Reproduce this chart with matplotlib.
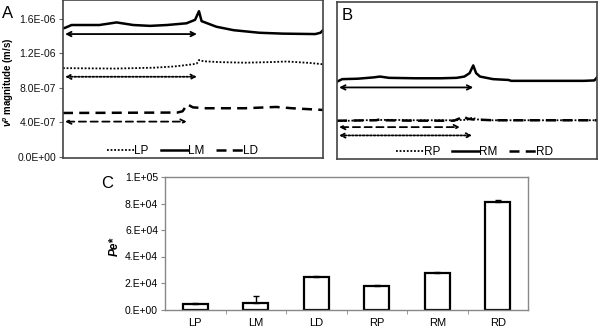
import numpy as np
import matplotlib
matplotlib.use("Agg")
import matplotlib.pyplot as plt
from matplotlib.ticker import FuncFormatter

plt.rcParams['font.family'] = ['Liberation Sans', 'DejaVu Sans']
plt.rcParams['mathtext.fontset'] = 'custom'
plt.rcParams['mathtext.bf'] = 'Liberation Sans:italic:bold'

# panel A: left side, velocity magnitude along the vessel (x in % of length, y in 1e-6 m/s)
lm_x = [0, 1, 3.3, 14, 20.6, 27, 33.5, 40, 47.5, 50.8, 52.3, 53.3, 59, 65.6, 75.6, 84.6, 97, 99, 100]
lm_y = [1.49, 1.50, 1.53, 1.53, 1.56, 1.53, 1.52, 1.53, 1.55, 1.59, 1.69, 1.575, 1.51, 1.47, 1.44, 1.43, 1.425, 1.44, 1.47]
lp_x = [0, 20, 35, 43, 50, 51.5, 52.3, 54, 60, 70, 80, 86, 95, 100]
lp_y = [1.03, 1.025, 1.035, 1.05, 1.075, 1.085, 1.124, 1.11, 1.10, 1.093, 1.10, 1.107, 1.09, 1.075]
ld_x = [0, 44, 46, 47.8, 50, 55, 70, 82, 88, 100]
ld_y = [0.51, 0.515, 0.53, 0.61, 0.575, 0.565, 0.565, 0.58, 0.565, 0.545]

# panel B: right side
rm_x = [0, 2, 8, 14, 16.5, 20, 30, 40, 46, 49, 51, 52.4, 53.5, 55, 60, 66, 67, 80, 95, 99, 100]
rm_y = [0.89, 0.92, 0.925, 0.94, 0.95, 0.935, 0.93, 0.93, 0.935, 0.95, 0.99, 1.08, 0.99, 0.95, 0.92, 0.91, 0.90, 0.90, 0.90, 0.905, 0.94]
rp_x = [0, 10, 20, 30, 45, 50, 52, 54, 60, 80, 100]
rp_y = [0.43, 0.44, 0.445, 0.44, 0.44, 0.445, 0.47, 0.45, 0.44, 0.44, 0.44]
rd_x = [0, 15, 16.5, 18, 30, 45, 47, 48.5, 50, 52, 60, 100]
rd_y = [0.435, 0.44, 0.45, 0.44, 0.435, 0.435, 0.46, 0.49, 0.46, 0.45, 0.44, 0.44]

# double arrows: (level in 1e-6 m/s, end position)
arrows_a = {'LM': (1.425, 51.5), 'LP': (0.93, 51.5), 'LD': (0.41, 47.6)}
arrows_b = {'RM': (0.823, 52.4), 'RD': (0.36, 47.3), 'RP': (0.263, 52.0)}

# panel C: Pe* per segment
segments = ['LP', 'LM', 'LD', 'RP', 'RM', 'RD']
pe_vals = [4300, 4800, 24700, 18100, 27400, 81000]
pe_err = [300, 5400, 700, 300, 700, 1300]

styles = {
    'P': dict(linestyle=(0, (1, 1)), lw=1.3),
    'M': dict(linestyle='-', lw=1.8),
    'D': dict(linestyle=(0, (4, 2.5)), lw=1.8),
}

fig = plt.figure(figsize=(6, 3.27), dpi=100)
ax_a = fig.add_axes([63/600, 1 - 158/327, 260/600, 158/327])
ax_b = fig.add_axes([337/600, 1 - 159/327, 260/600, 157/327])
ax_c = fig.add_axes([165/600, 1 - 309.5/327, 363/600, 132.5/327])


def line_panel(ax, series, arrows):
    for name, xs, ys in series:
        ax.plot(xs, np.array(ys) * 1e-6, color='black', label=name, **styles[name[1]])
    for name, (lvl, end) in arrows.items():
        st = styles[name[1]]
        ax.annotate('', xy=(end, lvl * 1e-6), xytext=(0.8, lvl * 1e-6),
                    arrowprops=dict(arrowstyle='<->', color='black', lw=1.3,
                                    linestyle=st['linestyle'], shrinkA=0, shrinkB=0,
                                    mutation_scale=8))
    ax.set_xlim(0, 100)
    ax.set_ylim(-0.012e-6, 1.82e-6)
    ax.set_xticks([])
    for s in ax.spines.values():
        s.set_color('#444444')
        s.set_linewidth(1.2)
    ax.legend(loc='lower center', bbox_to_anchor=(0.5, -0.01), ncol=3, frameon=False,
              fontsize=8.5, handlelength=2.3, handletextpad=0.0, columnspacing=1.0,
              borderaxespad=0.1, borderpad=0.1)


line_panel(ax_a, [('LP', lp_x, lp_y), ('LM', lm_x, lm_y), ('LD', ld_x, ld_y)], arrows_a)
ax_a.legend_.set_bbox_to_anchor((0.46, -0.01))
ax_a.set_yticks([0, 0.4e-6, 0.8e-6, 1.2e-6, 1.6e-6])
ax_a.yaxis.set_major_formatter(FuncFormatter(lambda v, p: '{:.1E}'.format(v)))
ax_a.tick_params(axis='y', labelsize=7.5, length=3, color='#666666', labelcolor='#111111', pad=2)

line_panel(ax_b, [('RP', rp_x, rp_y), ('RM', rm_x, rm_y), ('RD', rd_x, rd_y)], arrows_b)
ax_b.legend_.set_bbox_to_anchor((0.53, -0.01))
ax_b.set_yticks([])

x = np.arange(len(segments))
ax_c.bar(x, pe_vals, width=0.41, color='white', edgecolor='black', linewidth=1.6,
         yerr=[np.zeros(len(pe_err)), pe_err], capsize=2.5,
         error_kw=dict(elinewidth=1, capthick=1, ecolor='black'))
ax_c.set_xlim(-0.5, len(segments) - 0.5)
ax_c.set_ylim(0, 1e5)
ax_c.set_xticks(x)
ax_c.set_xticklabels(segments)
ax_c.set_xticks(x[:-1] + 0.5, minor=True)
ax_c.set_yticks(np.arange(0, 1.01e5, 2e4))
ax_c.yaxis.set_major_formatter(FuncFormatter(lambda v, p: '{:#.0E}'.format(v)))
ax_c.tick_params(axis='x', which='major', length=0, labelsize=8, pad=6)
ax_c.tick_params(axis='x', which='minor', length=3, color='#888888')
ax_c.tick_params(axis='y', labelsize=7.5, length=3, color='#888888', pad=2)
for s in ax_c.spines.values():
    s.set_color('#888888')
    s.set_linewidth(1.0)

fig.text(2/600, 1 - 14/327, 'A', fontsize=12, ha='left', va='center')
fig.text(342/600, 1 - 15/327, 'B', fontsize=12, ha='left', va='center')
fig.text(101/600, 1 - 183/327, 'C', fontsize=12, ha='left', va='center')
fig.text(9/600, 1 - 82/327, r'$\mathbf{v^p}$ magnitude (m/s)', fontsize=7,
         fontweight='bold', rotation=90, ha='center', va='center')
fig.text(115/600, 1 - 247/327, 'Pe*', fontsize=8.5, fontweight='bold', fontstyle='italic',
         rotation=90, ha='center', va='center')

fig.savefig('out.png', dpi=100)
